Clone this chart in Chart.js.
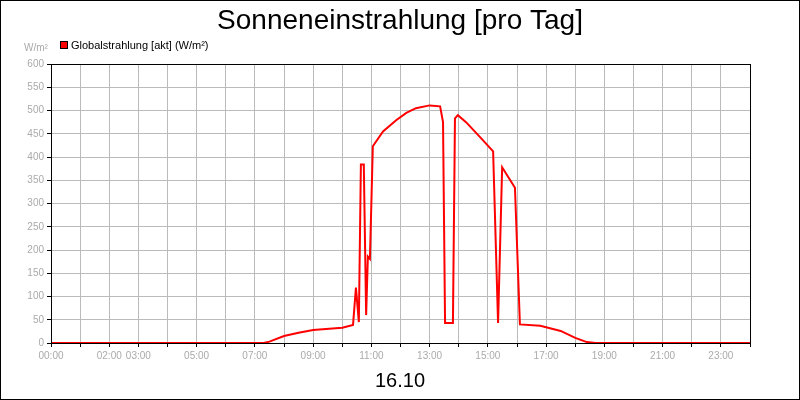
<!DOCTYPE html>
<html lang="de">
<head>
<meta charset="UTF-8" />
<title>Sonneneinstrahlung</title>
<script src="https://cdn.jsdelivr.net/npm/chart.js"></script>
<style>
  body { margin: 0; background: #fff; }
  #wrap { width: 798px; height: 398px; border: 1px solid #000; position: relative; }
</style>
</head>
<body>
<div id="wrap"><canvas id="c" width="798" height="398"></canvas></div>
<script>
  // hours of day and W/m²
  const hours = [0, 7.3, 7.5, 8, 8.5, 9, 10, 10.37, 10.47, 10.57, 10.64, 10.74, 10.82, 10.88, 10.95, 11.05,
    11.4, 11.85, 12.2, 12.53, 13, 13.36, 13.46, 13.53, 13.8, 13.87, 13.97, 14.25, 14.7, 15.18, 15.35,
    15.49, 15.93, 16.1, 16.8, 17.5, 18, 18.4, 18.7, 24];
  const values = [0, 0, 3, 15, 22, 28, 33, 39, 119, 45, 384, 384, 60, 186, 181, 423,
    455, 479, 495, 505, 511, 509, 475, 43, 43, 483, 490, 475, 445, 412, 43,
    378, 334, 40, 37, 26, 11, 2, 0, 0];
  const shownHours = [0, 2, 3, 5, 7, 9, 11, 13, 15, 17, 19, 21, 23];

  const overlay = {
    id: 'overlay',
    afterDraw(chart) {
      const { ctx, chartArea: a } = chart;
      ctx.save();
      ctx.strokeStyle = '#000';
      ctx.lineWidth = 1;
      ctx.strokeRect(a.left + 0.5, a.top + 0.5, a.right - a.left, a.bottom - a.top);
      ctx.fillStyle = '#000';
      ctx.textAlign = 'center';
      ctx.font = '28px "Liberation Sans", Arial, sans-serif';
      ctx.fillText('Sonneneinstrahlung [pro Tag]', 399, 28);
      ctx.font = '20px "Liberation Sans", Arial, sans-serif';
      ctx.fillText('16.10', 399, 386);
      ctx.fillStyle = '#aaa';
      ctx.font = '10px "Liberation Sans", Arial, sans-serif';
      ctx.fillText('W/m²', 35, 50);
      ctx.fillStyle = '#ff0000';
      ctx.fillRect(59, 40, 8, 8);
      ctx.strokeStyle = '#000';
      ctx.strokeRect(59.5, 40.5, 7, 7);
      ctx.fillStyle = '#000';
      ctx.textAlign = 'left';
      ctx.font = '11px "Liberation Sans", Arial, sans-serif';
      ctx.fillText('Globalstrahlung [akt] (W/m²)', 70, 48);
      ctx.restore();
    }
  };

  new Chart(document.getElementById('c'), {
    type: 'line',
    data: {
      datasets: [{
        data: hours.map((h, i) => ({ x: h, y: values[i] })),
        borderColor: '#ff0000',
        borderWidth: 2,
        pointRadius: 0,
        tension: 0,
        fill: false
      }]
    },
    options: {
      responsive: false,
      animation: false,
      layout: { padding: { top: 63, right: 49, bottom: 34, left: 0 } },
      plugins: { legend: { display: false }, tooltip: { enabled: false } },
      scales: {
        x: {
          type: 'linear', min: 0, max: 24,
          grid: { color: '#bbb', drawTicks: true, tickLength: 4, tickColor: '#000' },
          border: { color: '#000' },
          ticks: {
            stepSize: 1, autoSkip: false, maxRotation: 0, color: '#aaa',
            font: { size: 10, family: '"Liberation Sans", Arial, sans-serif' },
            callback: v => shownHours.includes(v) ? String(v).padStart(2, '0') + ':00' : ''
          }
        },
        y: {
          min: 0, max: 600,
          afterFit: s => { s.width = 50; },
          grid: { color: '#bbb', tickLength: 4, tickColor: '#000' },
          border: { color: '#000' },
          ticks: {
            stepSize: 50, color: '#aaa',
            font: { size: 10, family: '"Liberation Sans", Arial, sans-serif' }
          }
        }
      }
    },
    plugins: [overlay]
  });
</script>
</body>
</html>
